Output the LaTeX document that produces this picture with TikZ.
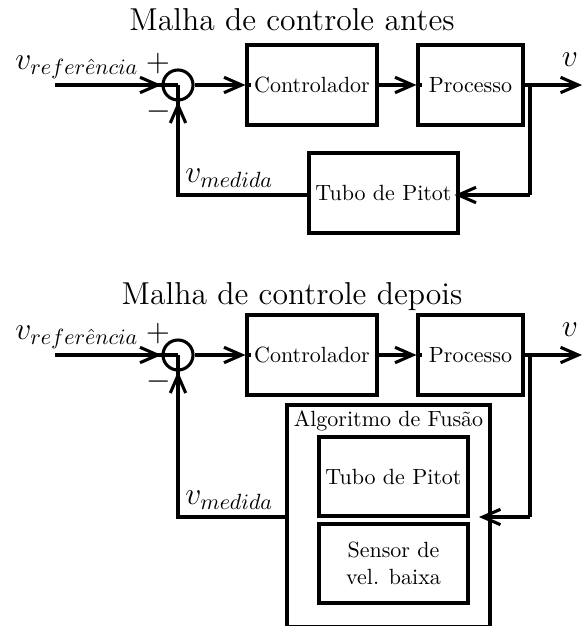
\documentclass[tikz,border=0pt]{standalone}
\usetikzlibrary{arrows.meta}
\begin{document}
\begin{tikzpicture}[x=0.4545pt,y=-0.4545pt,
  lw/.style={line width=1.4pt},
  blk/.style={draw,lw,rectangle,inner sep=0pt,minimum width=#1*0.4545pt,minimum height=80*0.4545pt,align=center},
  sumc/.style={draw,lw,circle,inner sep=0pt,minimum size=30*0.4545pt},
  con/.style={lw,-{Straight Barb[length=8pt,width=7pt,line width=1.4pt]}},
  wire/.style={lw},
  ttl/.style={font=\Large},
  ml/.style={font=\Large}]
\useasboundingbox (0,0) rectangle (584,626);
% ---------- top ----------
\node[ttl] (t1) at (292,20) {Malha de controle antes};
\node[sumc] (s1) at (178,85) {};
\node[blk=130] (c1) at (312,85) {Controlador};
\node[blk=105] (p1) at (470.5,85) {Processo};
\node[blk=149] (f1) at (383.5,193) {Tubo de Pitot};
\coordinate (i1) at (55,85);
\coordinate (o1) at (582,85);
\coordinate (b1) at (530,85);
\coordinate (d1) at (530,195);
\coordinate (e1) at (178,195);
\node[ml,anchor=south west,inner sep=0pt] (vr1) at (15,79) {$v_{refer\hat{e}ncia}$};
\node[font=\Large,inner sep=0pt] (pl1) at (158,64) {$+$};
\node[font=\Large,inner sep=0pt] (mi1) at (159,112) {$-$};
\node[ml,anchor=south west,inner sep=0pt] (vm1) at (185,188) {$v_{medida}$};
\node[ml,inner sep=0pt] (vo1) at (570,60) {$v$};
\draw[wire] (i1) -- (s1.center);
\draw[con] (i1) -- (s1.west);
\draw[con] (s1.east) -- (c1.west);
\draw[wire] (c1.west) -- ++(6,0);
\draw[con] (c1.east) -- (p1.west);
\draw[wire] (p1.west) -- ++(6,0);
\draw[con] (p1.east) -- (o1);
\draw[wire] (b1) -- (d1);
\draw[con] (d1) -- ([xshift=-5*0.4545pt]f1.east |- d1);
\draw[wire] (f1.west |- e1) -- (e1) -- (s1.center);
\draw[con] (e1) -- (s1.south);
% ---------- bottom ----------
\node[ttl] (t2) at (292,297) {Malha de controle depois};
\node[sumc] (s2) at (178,355) {};
\node[blk=130] (c2) at (312,355) {Controlador};
\node[blk=105] (p2) at (470.5,355) {Processo};
\node[draw,lw,minimum width=203*0.4545pt,minimum height=222*0.4545pt,inner sep=0pt] (a2) at (388.5,516) {};
\node[anchor=north] (at2) at (a2.north) {Algoritmo de Fus\~ao};
\node[blk=149,minimum height=79*0.4545pt] (f2) at (393.5,476.5) {Tubo de Pitot};
\node[blk=149,minimum height=79*0.4545pt] (g2) at (393.5,563.5) {Sensor de\\vel. baixa};
\coordinate (i2) at (55,355);
\coordinate (o2) at (582,355);
\coordinate (b2) at (530,355);
\coordinate (d2) at (530,517);
\coordinate (h2) at (479,517);
\coordinate (e2) at (178,517);
\node[ml,anchor=south west,inner sep=0pt] (vr2) at (15,349) {$v_{refer\hat{e}ncia}$};
\node[font=\Large,inner sep=0pt] (pl2) at (158,334) {$+$};
\node[font=\Large,inner sep=0pt] (mi2) at (159,382) {$-$};
\node[ml,anchor=south west,inner sep=0pt] (vm2) at (185,510) {$v_{medida}$};
\node[ml,inner sep=0pt] (vo2) at (570,330) {$v$};
\draw[wire] (i2) -- (s2.center);
\draw[con] (i2) -- (s2.west);
\draw[con] (s2.east) -- (c2.west);
\draw[wire] (c2.west) -- ++(6,0);
\draw[con] (c2.east) -- (p2.west);
\draw[wire] (p2.west) -- ++(6,0);
\draw[con] (p2.east) -- (o2);
\draw[wire] (b2) -- (d2);
\draw[con] (d2) -- (h2);
\draw[wire] (a2.west |- e2) -- (e2) -- (s2.center);
\draw[con] (e2) -- (s2.south);
\end{tikzpicture}
\end{document}
